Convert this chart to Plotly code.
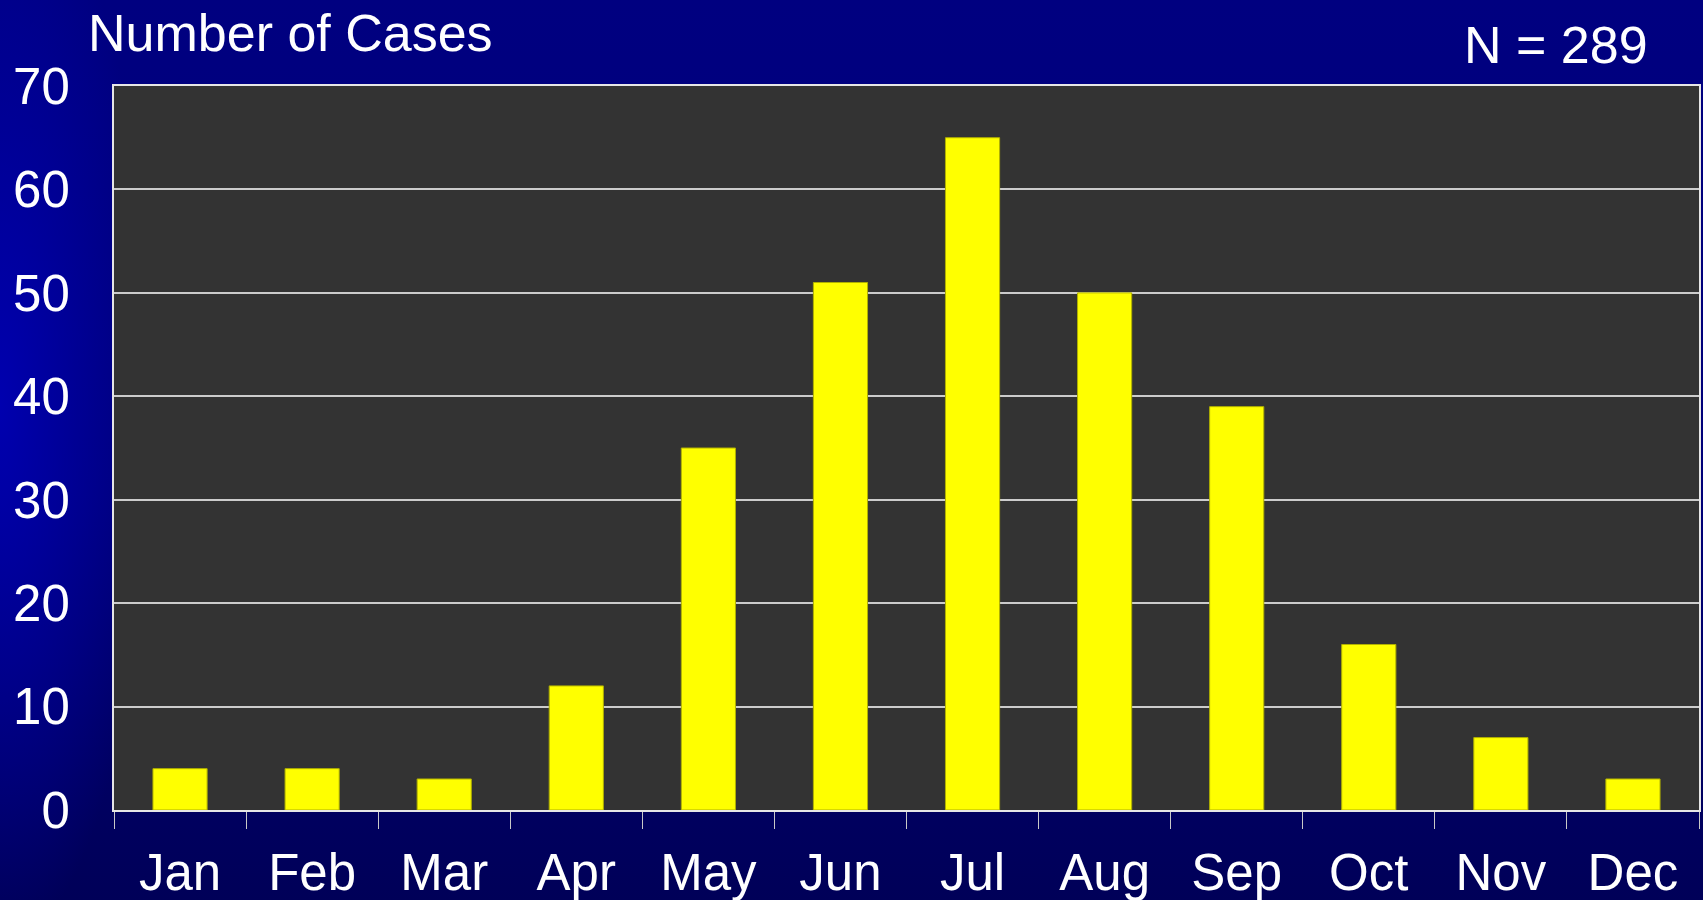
import base64
import plotly.graph_objects as go

# Monthly case counts
months = ["Jan", "Feb", "Mar", "Apr", "May", "Jun",
          "Jul", "Aug", "Sep", "Oct", "Nov", "Dec"]
cases = [4, 4, 3, 12, 35, 51, 65, 50, 39, 16, 7, 3]
y_ticks = [0, 10, 20, 30, 40, 50, 60, 70]
title_text = "Number of Cases"
total_text = "N = " + str(sum(cases))

W, H = 1703, 900
ML, MR, MT, MB = 114, 4, 86, 90
PW = W - ML - MR
PH = H - MT - MB

FONT = "Liberation Sans, Arial, Helvetica, sans-serif"

# Navy slide backdrop: darker toward the bottom, brighter along the left edge
svg = f"""<svg xmlns='http://www.w3.org/2000/svg' width='{W}' height='{H}' viewBox='0 0 {W} {H}' preserveAspectRatio='none'>
<defs>
<linearGradient id='v' x1='0' y1='0' x2='0' y2='1'>
<stop offset='0' stop-color='#000080'/>
<stop offset='0.55' stop-color='#000078'/>
<stop offset='1' stop-color='#000058'/>
</linearGradient>
<radialGradient id='l' cx='0' cy='0.45' r='1' gradientTransform='translate(0,0.45) scale(0.09,0.6) translate(0,-0.45)'>
<stop offset='0' stop-color='#0000b8' stop-opacity='0.85'/>
<stop offset='1' stop-color='#0000b8' stop-opacity='0'/>
</radialGradient>
</defs>
<rect width='{W}' height='{H}' fill='url(#v)'/>
<rect width='{W}' height='{H}' fill='url(#l)'/>
</svg>"""
bg_uri = "data:image/svg+xml;base64," + base64.b64encode(svg.encode()).decode()

fig = go.Figure(
    go.Bar(
        x=months,
        y=cases,
        width=0.41,
        marker=dict(color="#ffff00", line=dict(color="#b0b000", width=1)),
        hoverinfo="x+y",
    )
)

fig.update_layout(
    width=W,
    height=H,
    margin=dict(l=ML, r=MR, t=MT, b=MB, pad=0),
    paper_bgcolor="#000070",
    plot_bgcolor="#333333",
    showlegend=False,
    font=dict(family=FONT, color="white", size=51),
    images=[dict(
        source=bg_uri,
        xref="paper", yref="paper",
        x=-ML / PW, y=1 + MT / PH,
        sizex=W / PW, sizey=H / PH,
        xanchor="left", yanchor="top",
        sizing="stretch", layer="below",
    )],
    shapes=[dict(
        type="rect", xref="paper", yref="paper",
        x0=0, x1=1, y0=0, y1=1,
        fillcolor="#333333", line=dict(width=0), layer="below",
    )],
    annotations=[
        dict(text=title_text, xref="paper", yref="paper",
             x=(86 - ML) / PW, y=1 + (MT - 33) / PH,
             xanchor="left", yanchor="middle", showarrow=False,
             font=dict(family=FONT, size=52, color="white")),
        dict(text=total_text, xref="paper", yref="paper",
             x=(1462 - ML) / PW, y=1 + (MT - 45) / PH,
             xanchor="left", yanchor="middle", showarrow=False,
             font=dict(family=FONT, size=52, color="white")),
    ],
)

fig.update_xaxes(
    type="category", automargin=False,
    showline=True, linecolor="#e6e6e6", linewidth=2, mirror=True,
    ticks="outside", tickson="boundaries", ticklen=17,
    tickcolor="#c8c8c8", tickwidth=1,
    showgrid=False,
    tickfont=dict(family=FONT, size=51, color="white"),
    ticklabelstandoff=17,
)

fig.update_yaxes(
    range=[0, 70], automargin=False,
    tickmode="array", tickvals=y_ticks, ticktext=[str(v) for v in y_ticks],
    showline=True, linecolor="#e6e6e6", linewidth=2, mirror=True,
    showgrid=True, gridcolor="#cccccc", gridwidth=1.6,
    zeroline=False, ticks="",
    tickfont=dict(family=FONT, size=51, color="white"),
    ticklabelstandoff=32,
)

fig.write_html("out.html")
